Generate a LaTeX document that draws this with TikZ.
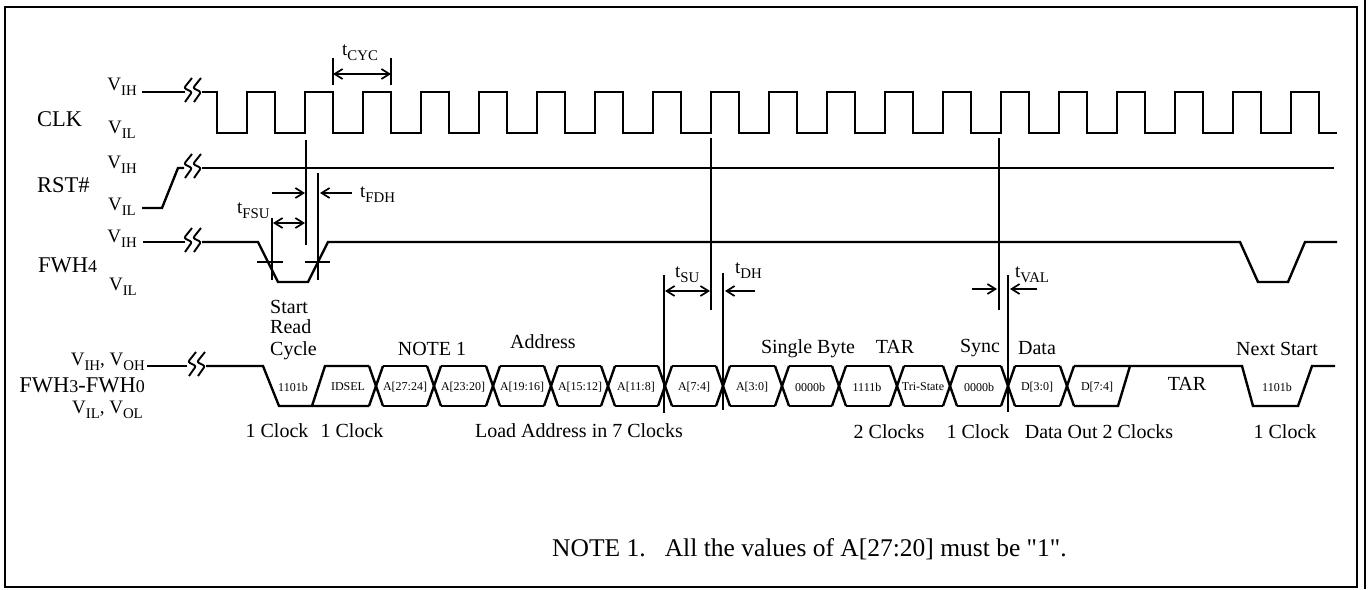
\documentclass[tikz,border=0pt]{standalone}
\usepackage{fontspec}
\setmainfont{Liberation Serif}
\newfontfamily\qfont{Liberation Serif}[Ligatures=TeXOff]
\usetikzlibrary{arrows.meta}
\newcommand\lowsb[1]{\raisebox{-0.28em}{\scalebox{0.78}{#1}}}
\begin{document}
\begin{tikzpicture}[x=1pt,y=-1pt,
  sig/.style={line width=2.4pt, line join=miter},
  ref/.style={line width=2.1pt},
  arr/.style={line width=1.7pt, -{Straight Barb[length=8pt,width=10pt,line width=1.7pt]}},
  darr/.style={line width=1.7pt, {Straight Barb[length=8pt,width=10pt,line width=1.7pt]}-{Straight Barb[length=8pt,width=10pt,line width=1.7pt]}},
  vl/.style={font=\fontsize{19}{21}\selectfont, inner sep=0pt},
  big/.style={font=\fontsize{22.5}{24}\selectfont, inner sep=0pt},
  txt/.style={font=\fontsize{20}{21}\selectfont, inner sep=0pt},
  tl/.style={font=\fontsize{19}{21}\selectfont, inner sep=0pt},
  cell/.style={font=\fontsize{12}{14}\selectfont, inner sep=0pt},
  brk/.pic={
    \draw[line width=1.9pt, rounded corners=2pt] (-1,-13) -- (-9,-3) -- (-1,1) -- (-8,11);
    \draw[line width=1.9pt, rounded corners=2pt] (8,-13) -- (0,-3) -- (8,1) -- (1,11);
  }]
\useasboundingbox (0,0) rectangle (1368,589);
% frame
\draw[line width=2.6pt] (5,7) rectangle (1357,587);
\draw[line width=2.6pt] (1365,0) -- (1365,589);

% ---------------- CLK ----------------
\draw[sig] (142,92) -- (185,92);
\pic at (193,91) {brk};
\draw[sig] (202,92) -- (217,92)
  foreach \k in {0,...,18} { -- ({217+58*\k},133) -- ({247+58*\k},133) -- ({247+58*\k},92) -- ({275+58*\k},92) }
  -- (1319,133) -- (1337,133);

% ---------------- RST# ----------------
\draw[sig] (142,208) -- (162,208) -- (178,168) -- (184,168);
\pic at (193,167) {brk};
\draw[sig] (202,168) -- (1334,168);

% ---------------- FWH4 ----------------
\draw[sig] (143,242) -- (185,242);
\pic at (193,241) {brk};
\draw[sig] (202,242) -- (258,242) -- (278,282) -- (308,282) -- (328,242) -- (1240,242)
  -- (1258,282) -- (1288,282) -- (1305,242) -- (1337,242);
\draw[ref] (257,262) -- (283,262);
\draw[ref] (305,262) -- (330,262);

% ---------------- Bus ----------------
\draw[sig] (147,366) -- (187,366);
\pic at (197,365) {brk};
\draw[sig] (206,366) -- (263,366) -- (279,406) -- (369,406);
\draw[sig] (312,406) -- (325,366) -- (369,366);
\foreach \a/\b in {376/434,434/493,493/551,551/608,608/665,665/723,723/782,782/839,839/897,897/950,950/1008,1008/1067}{
  \draw[sig] ({\a+7},366) -- ({\b-7},366);
  \draw[sig] ({\a+7},406) -- ({\b-7},406);
}
\foreach \c in {376,434,493,551,608,665,723,782,839,897,950,1008,1067}{
  \draw[sig] ({\c-7},366) -- ({\c+7},406);
  \draw[sig] ({\c-7},406) -- ({\c+7},366);
}
\draw[sig] (1074,366) -- (1242,366) -- (1253,406) -- (1298,406) -- (1312,366) -- (1335,366);
\draw[sig] (1074,406) -- (1118,406) -- (1130,366);

% cell labels
\node[cell] (c1) at (293,387) {1101b};
\node[cell] (c2) at (348,387) {IDSEL};
\node[cell] (c3) at (405,387) {A[27:24]};
\node[cell] (c4) at (463,387) {A[23:20]};
\node[cell] (c5) at (522,387) {A[19:16]};
\node[cell] (c6) at (580,387) {A[15:12]};
\node[cell] (c7) at (636,387) {A[11:8]};
\node[cell] (c8) at (694,387) {A[7:4]};
\node[cell] (c9) at (752,387) {A[3:0]};
\node[cell] (c10) at (810,387) {0000b};
\node[cell] (c11) at (867,387) {1111b};
\node[cell] (c12) at (923,387) {Tri-State};
\node[cell] (c13) at (979,387) {0000b};
\node[cell] (c14) at (1037,387) {D[3:0]};
\node[cell] (c15) at (1097,387) {D[7:4]};
\node[cell] (c16) at (1277,387) {1101b};
\node[txt, anchor=base] (tarbus) at (1187,390) {TAR};

% ---------------- reference lines ----------------
\draw[ref] (306,140) -- (306,245);
\draw[ref] (318,173) -- (318,280);
\draw[ref] (272,218) -- (272,280);
\draw[ref] (711,138) -- (711,310);
\draw[ref] (664,275) -- (664,413);
\draw[ref] (723,273) -- (723,410);
\draw[ref] (999,138) -- (999,310);
\draw[ref] (1008,275) -- (1008,412);
\draw[ref] (333,58) -- (333,85);
\draw[ref] (391,58) -- (391,85);

% arrows
\draw[darr] (333,74) -- (391,74);
\draw[arr] (272,193) -- (305,193);
\draw[arr] (352,193) -- (320,193);
\draw[darr] (273,223) -- (305,223);
\draw[darr] (665,291) -- (710,291);
\draw[arr] (755,291) -- (725,291);
\draw[arr] (972,289) -- (997,289);
\draw[arr] (1037,289) -- (1010,289);

% timing labels
\node[tl, anchor=base west] (tcyc) at (342,55) {t\lowsb{CYC}};
\node[tl, anchor=base west] (tfsu) at (237,213) {t\lowsb{FSU}};
\node[tl, anchor=base west] (tfdh) at (360,197) {t\lowsb{FDH}};
\node[tl, anchor=base west] (tsu) at (675,277) {t\lowsb{SU}};
\node[tl, anchor=base west] (tdh) at (735,273) {t\lowsb{DH}};
\node[tl, anchor=base west] (tval) at (1015,277) {t\lowsb{VAL}};

% signal labels
\node[vl, anchor=base east] (clkvih) at (137,90) {V\lowsb{IH}};
\node[vl, anchor=base east] (clkvil) at (136,133) {V\lowsb{IL}};
\node[vl, anchor=base east] (rstvih) at (137,168) {V\lowsb{IH}};
\node[vl, anchor=base east] (rstvil) at (136,210) {V\lowsb{IL}};
\node[vl, anchor=base east] (fwvih) at (137,242) {V\lowsb{IH}};
\node[vl, anchor=base east] (fwvil) at (137,290) {V\lowsb{IL}};
\node[big, anchor=base west] (clk) at (37,126) {CLK};
\node[big, anchor=base west] (rst) at (37,192) {RST\#};
\node[big, anchor=base west] (fwh4) at (38,272) {FWH{\fontsize{18}{20}\selectfont 4}};
\node[vl, anchor=base east] (busvh) at (145,365) {V\lowsb{IH}, V\lowsb{OH}};
\node[big, anchor=base east] (bus) at (145,392) {FWH{\fontsize{18}{20}\selectfont 3}-FWH{\fontsize{18}{20}\selectfont 0}};
\node[vl, anchor=base east] (busvl) at (143,413) {V\lowsb{IL}, V\lowsb{OL}};

% phase labels
\node[txt, anchor=base west] (st1) at (270,313) {Start};
\node[txt, anchor=base west] (st2) at (270,333) {Read};
\node[txt, anchor=base west] (st3) at (270,355) {Cycle};
\node[txt, anchor=base] (note1) at (432,355) {NOTE 1};
\node[txt, anchor=base] (addr) at (543,348) {Address};
\node[txt, anchor=base] (sb) at (808,353) {Single Byte};
\node[txt, anchor=base] (tar) at (895,353) {TAR};
\node[txt, anchor=base] (sync) at (980,352) {Sync};
\node[txt, anchor=base] (data) at (1037,354) {Data};
\node[txt, anchor=base] (next) at (1277,355) {Next Start};

\node[txt, anchor=base] (b1) at (277,437) {1 Clock};
\node[txt, anchor=base] (b2) at (352,437) {1 Clock};
\node[txt, anchor=base] (b3) at (579,437) {Load Address in 7 Clocks};
\node[txt, anchor=base] (b4) at (889,438) {2 Clocks};
\node[txt, anchor=base] (b5) at (978,438) {1 Clock};
\node[txt, anchor=base] (b6) at (1099,438) {Data Out 2 Clocks};
\node[txt, anchor=base] (b7) at (1285,438) {1 Clock};

\node[font=\fontsize{25.5}{27}\selectfont, inner sep=0pt, anchor=base west] (note) at (552,556) {NOTE 1.\hspace{0.75em}All the values of A[27:20] must be {\qfont"1"}.};
\end{tikzpicture}
\end{document}
